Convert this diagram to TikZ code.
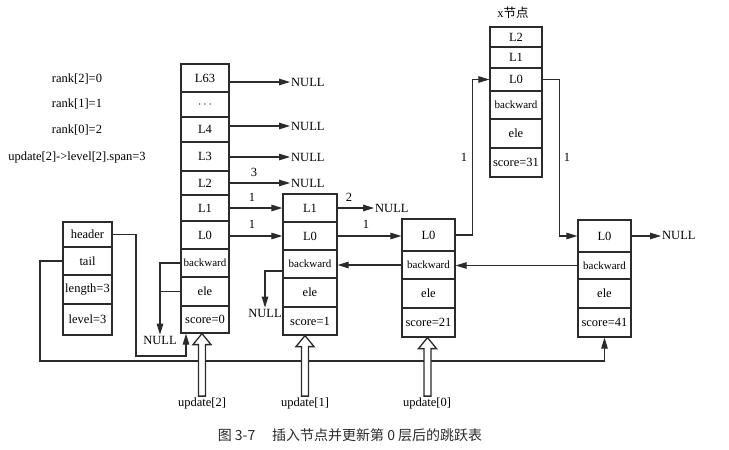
\documentclass[tikz,border=0pt]{standalone}
\usepackage{fontspec}
\setmainfont{Liberation Serif}
\newfontfamily\cjk{Noto Sans CJK SC}
\usetikzlibrary{arrows.meta,calc}
\definecolor{ln}{HTML}{2B2B2B}
\newcommand\hollowup[3]{%
  \draw[hollow] ([xshift=#2pt-3.5pt]#1.south |- #3.north)
    -- ([xshift=#2pt-3.5pt,yshift=-11pt]#1.south)
    -- ([xshift=#2pt-9pt,yshift=-11pt]#1.south)
    -- ([xshift=#2pt]#1.south)
    -- ([xshift=#2pt+9pt,yshift=-11pt]#1.south)
    -- ([xshift=#2pt+3.5pt,yshift=-11pt]#1.south)
    -- ([xshift=#2pt+3.5pt]#1.south |- #3.north) -- cycle;}
\newcommand\bw{{\fontsize{11}{12}\selectfont backward}}
\newcommand\mkcell[6]{%
  \pgfmathsetmacro\cellcx{(#2+#4)/2}%
  \pgfmathsetmacro\cellcy{(#3+#5)/2}%
  \node[cell, minimum width={(#4-#2)*1pt}, minimum height={(#5-#3)*1pt}] (#1) at (\cellcx,\cellcy) {#6};}
\begin{document}
\begin{tikzpicture}[x=1pt,y=-1pt, font=\fontsize{12.5}{14}\selectfont,
  cell/.style={draw=ln, line width=1.2pt, inner sep=0pt, text=black},
  arr/.style={draw=ln, line width=1.1pt, -{Triangle[length=11pt,width=6.5pt]}},
  ln/.style={draw=ln, line width=1.1pt},
  lbl/.style={inner sep=1pt, text=black},
  hollow/.style={draw=ln, line width=1.3pt, fill=white}]
\useasboundingbox[fill=white] (0,0) rectangle (729,450);

% left labels
\node[lbl] (r2) at (77,79) {rank[2]=0};
\node[lbl] (r1) at (77,104) {rank[1]=1};
\node[lbl] (r0) at (77,130) {rank[0]=2};
\node[lbl] (us) at (77,157) {update[2]-{}>level[2].span=3};

% zskiplist struct
\mkcell{zh}{63}{222}{112}{247}{header}
\mkcell{zt}{63}{247}{112}{275}{tail}
\mkcell{zl}{63}{275}{112}{304}{length=3}
\mkcell{zv}{63}{304}{112}{335}{level=3}

% header node column
\mkcell{h63}{181}{64}{229}{92}{L63}
\mkcell{hd}{181}{92}{229}{117}{$\cdots$}
\mkcell{h4}{181}{117}{229}{142}{L4}
\mkcell{h3}{181}{142}{229}{171}{L3}
\mkcell{h2}{181}{171}{229}{195}{L2}
\mkcell{h1}{181}{195}{229}{221}{L1}
\mkcell{h0}{181}{221}{229}{249}{L0}
\mkcell{hb}{181}{249}{229}{277}{\bw}
\mkcell{he}{181}{277}{229}{306}{ele}
\mkcell{hs}{181}{306}{229}{333}{score=0}

% node score=1
\mkcell{a1}{283}{194}{337}{222}{L1}
\mkcell{a0}{283}{222}{337}{250}{L0}
\mkcell{ab}{283}{250}{337}{278}{\bw}
\mkcell{ae}{283}{278}{337}{307}{ele}
\mkcell{as}{283}{307}{337}{335}{score=1}

% node score=21
\mkcell{b0}{402}{219}{455}{251}{L0}
\mkcell{bb}{402}{251}{455}{279}{\bw}
\mkcell{be}{402}{279}{455}{308}{ele}
\mkcell{bs}{402}{308}{455}{337}{score=21}

% x node
\node[lbl] (xt) at (513,13) {x{\cjk 节点}};
\mkcell{x2}{490}{27}{542}{47}{L2}
\mkcell{x1}{490}{47}{542}{68}{L1}
\mkcell{x0}{490}{68}{542}{91}{L0}
\mkcell{xb}{490}{91}{542}{119}{\bw}
\mkcell{xe}{490}{119}{542}{148}{ele}
\mkcell{xs}{490}{148}{542}{177}{score=31}

% node score=41
\mkcell{d0}{578}{220}{631}{252}{L0}
\mkcell{db}{578}{252}{631}{279}{\bw}
\mkcell{de}{578}{279}{631}{308}{ele}
\mkcell{ds}{578}{308}{631}{337}{score=41}

% NULL targets
\node[lbl, anchor=west] (n63) at (290,82) {NULL};
\node[lbl, anchor=west] (n4) at (290,126) {NULL};
\node[lbl, anchor=west] (n3) at (290,157) {NULL};
\node[lbl, anchor=west] (n2) at (290,183) {NULL};
\node[lbl, anchor=west] (na1) at (374,208) {NULL};
\node[lbl, anchor=west] (nd) at (661,235) {NULL};
\node[lbl] (nab) at (265,313) {NULL};
\node[lbl] (nhb) at (160,340) {NULL};

\draw[arr] (h63.east |- n63.west) -- (n63.west);
\draw[arr] (h4.east |- n4.west) -- (n4.west);
\draw[arr] (h3.east |- n3.west) -- (n3.west);
\draw[arr] (h2.east |- n2.west) -- (n2.west);
\node[lbl] (s3) at (254,172) {3};

\draw[arr] (h1.east |- a1.west) -- (a1.west);
\node[lbl] (s1a) at (252,197) {1};
\draw[arr] (h0.east |- a0.west) -- (a0.west);
\node[lbl] (s1b) at (252,224) {1};

\draw[arr] (a1.east) -- (a1.east -| na1.west);
\node[lbl] (s2) at (349,197) {2};
\draw[arr] (a0.east) -- (a0.east -| b0.west);
\node[lbl] (s1c) at (366,224) {1};

\draw[arr] (b0.east) -- ++(17,0) |- (x0.west);
\node[lbl] (s1d) at (464,157) {1};
\draw[arr] (x0.east) -- ++(17,0) |- (d0.west);
\node[lbl] (s1e) at (567,157) {1};
\draw[arr] (d0.east) -- (d0.east -| nd.west);

% backward pointers
\draw[arr] (db.west) -- (db.west -| bb.east);
\draw[arr] (bb.west) -- (bb.west -| ab.east);
\draw[arr] ([yshift=-7pt]ab.west) -| (nab.north);
\draw[arr] (hb.west) -| (nhb.north);
\draw[ln] (he.west) -- (he.west -| nhb.north);

% header / tail pointers
\coordinate (hj) at (136,356);
\draw[arr] (zh.east) -| (hj) -| ([xshift=-19pt]hs.south);
\coordinate (tj) at (40,361);
\draw[arr] (zt.west) -| (tj) -| (ds.south);

% update arrows
\node[lbl] (u2) at (202,403) {update[2]};
\node[lbl] (u1) at (305,403) {update[1]};
\node[lbl] (u0) at (427,403) {update[0]};
\hollowup{hs}{-3}{u2}
\hollowup{as}{-5}{u1}
\hollowup{bs}{-1}{u0}

% caption
\node[text=ln] (cap) at (350,435) {\cjk\fontsize{14}{16}\selectfont 图 3-7\hspace{1.2em}插入节点并更新第 0 层后的跳跃表};
\end{tikzpicture}
\end{document}
